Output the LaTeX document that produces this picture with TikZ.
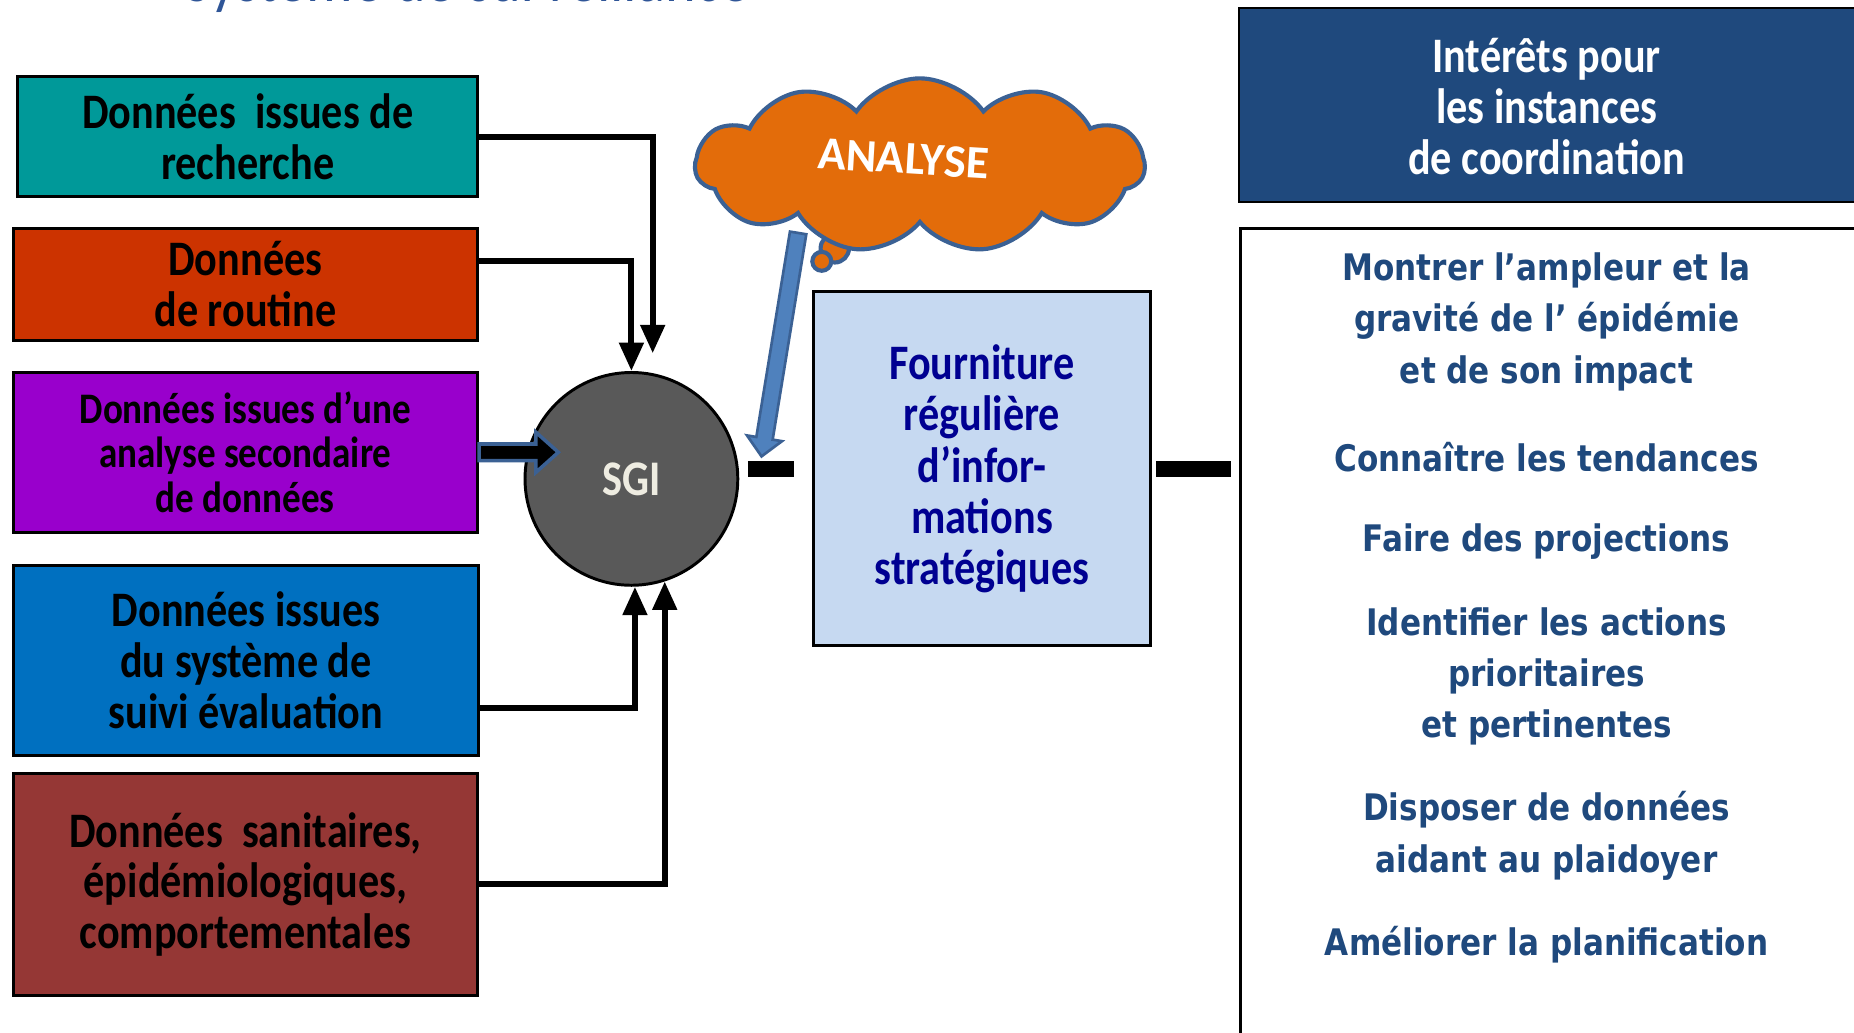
\documentclass[tikz,border=0pt]{standalone}
\usepackage{fontspec}
\setmainfont{Carlito}[FakeStretch=0.85]
\newfontfamily\nuagefont{Carlito}
\newfontfamily\listefont{DejaVu Sans}[FakeStretch=0.85]
\usepackage{tikz}
\usetikzlibrary{arrows.meta}
\usetikzlibrary{positioning,calc}
\usetikzlibrary{shapes.symbols}
\usepackage{xcolor}
\definecolor{sarcelle}{RGB}{0,153,153}
\definecolor{rouille}{RGB}{204,51,0}
\definecolor{pourpre}{RGB}{153,0,204}
\definecolor{azur}{RGB}{0,112,192}
\definecolor{brique}{RGB}{149,55,53}
\definecolor{gris}{RGB}{89,89,89}
\definecolor{creme}{RGB}{238,236,225}
\definecolor{potiron}{RGB}{227,108,10}
\definecolor{ardoise}{RGB}{59,97,148}
\definecolor{ciel}{RGB}{79,129,189}
\definecolor{pale}{RGB}{198,217,241}
\definecolor{marine}{RGB}{0,0,145}
\definecolor{nuit}{RGB}{31,73,125}
\definecolor{titrebleu}{RGB}{47,85,151}
\tikzset{
  every node/.style={font=\bfseries}
}

\begin{document}
\begin{tikzpicture}[x=0.02cm, y=-0.02cm]
  \tikzset{
    source/.style={
      draw=black,
      line width=0.05cm,
      inner sep=0pt,
      align=center,
      text=black,
      font=\bfseries\fontsize{23.9}{24.5}\selectfont
    },
    feed/.style={
      draw=black,
      line width=0.1cm,
      -{Triangle[length=0.48cm, width=0.4cm]}
    },
    tiret/.style={
      draw=black,
      line width=0.28cm
    },
    interet/.style={
      align=center,
      text=nuit,
      font=\listefont\bfseries\fontsize{17.6}{24.7}\selectfont
    }
  }
  \useasboundingbox (0,0) rectangle (1568,873);

  % Title (cut by the page edge)
  \node[anchor=base, text=titrebleu, font=\fontsize{33}{36}\selectfont] (titre) at (395,1) {Système de surveillance};

  % Sources
  \node[source, fill=sarcelle, minimum width=7.78cm, minimum height=2.02cm] (recherche) at (209.5,115.5) {Données~~issues de\\recherche};
  \node[source, fill=rouille, minimum width=7.86cm, minimum height=1.9cm] (routine) at (207.5,240.5) {Données\\de routine};
  \node[source, fill=pourpre, minimum width=7.86cm, minimum height=2.7cm, font=\bfseries\fontsize{21}{21.6}\selectfont] (secondaire) at (207.5,382.5) {Données issues d’une\\analyse secondaire\\de données};
  \node[source, fill=azur, minimum width=7.88cm, minimum height=3.22cm] (suivi) at (208,558.5) {Données issues\\du système de\\suivi évaluation};
  \node[source, fill=brique, minimum width=7.86cm, minimum height=3.76cm] (sanitaires) at (207.5,748) {Données~~sanitaires,\\épidémiologiques,\\comportementales};

  % SGI
  \node[circle, fill=gris, draw=black, line width=0.05cm, minimum size=3.6cm, text=creme,
    font=\bfseries\fontsize{24}{24}\selectfont] (sgi) at (534,405) {SGI};

  % Connectors
  \draw[feed] (recherche.east) -| ($(sgi.north)+(18,-15)$);
  \draw[feed] ($(routine.east)+(0,-20)$) -| (sgi.north);
  \draw[feed] ($(suivi.east)+(0,40)$) -| ($(sgi.south)+(3,0)$);
  \draw[feed] (sanitaires.east) -| (sgi.-72);
  \draw[fill=black, draw=ardoise, line width=0.06cm] ($(secondaire.east)+(0,-7)$) -- ++(48,0) -- ++(0,-10)
    -- ++(19,17) -- ++(-19,17) -- ++(0,-10) -- ++(-48,0) -- cycle;

  % Fourniture
  \node[draw=black, line width=0.05cm, fill=pale, minimum width=5.71cm, minimum height=5.99cm,
    align=center, text=marine, font=\bfseries\fontsize{23.9}{24.6}\selectfont] (fourniture) at (830.5,396.5)
    {Fourniture\\régulière\\d’infor-\\mations\\stratégiques};
  \draw[tiret] ($(fourniture.west)+(-54,0)$) -- ($(fourniture.west)+(-15,0)$);
  \draw[tiret] ($(fourniture.east)+(3,0)$) -- ($(fourniture.east)+(67,0)$);

  % Analyse
  \begin{scope}[shift={(675,197)}, rotate=-99.3]
    \draw[fill=ciel, draw=ardoise, line width=0.045cm] (0,-7) -- (176,-7) -- (176,-15) -- (191.5,0)
      -- (176,15) -- (176,7) -- (0,7) -- cycle;
  \end{scope}
  \node[circle, fill=potiron, draw=ardoise, line width=0.07cm, minimum size=0.48cm, inner sep=0pt] (bulle1) at (706,210) {};
  \node[circle, fill=potiron, draw=ardoise, line width=0.07cm, minimum size=0.32cm, inner sep=0pt] (bulle2) at (695,221) {};
  \node[cloud, cloud puffs=11, cloud puff arc=110, cloud ignores aspect, fill=potiron, draw=ardoise,
    line width=0.07cm, minimum width=7.6cm, minimum height=2.95cm] (analyse) at (778,140) {};
  \node[rotate=-3.5, text=white, font=\nuagefont\bfseries\fontsize{22.4}{24}\selectfont] (analyse-txt) at (764,134) {ANALYSE};

  % Interets
  \node[draw=black, line width=0.04cm, fill=nuit, minimum width=11.04cm, minimum height=3.28cm] (interets-fond) at (1324,89) {};
  \node[align=center, text=white, font=\bfseries\fontsize{23.9}{24.5}\selectfont] (interets) at (1308,90) {Intérêts pour\\les instances\\de coordination};
  \node[draw=black, line width=0.05cm, fill=white, minimum width=11.02cm, minimum height=14.14cm] (liste-fond) at (1324.5,546.5) {};

  \node[interet] (ampleur) at (1308,272) {Montrer l’ampleur et la\\gravité de l’ épidémie\\et de son impact};
  \node[interet] (tendances) at (1308,387) {Connaître les tendances};
  \node[interet] (projections) at (1308,458) {Faire des projections};
  \node[interet] (actions) at (1308,572) {Identifier les actions\\prioritaires\\et pertinentes};
  \node[interet] (plaidoyer) at (1308,707) {Disposer de données\\aidant au plaidoyer};
  \node[interet] (planification) at (1308,799) {Améliorer la planification};
\end{tikzpicture}
\end{document}
